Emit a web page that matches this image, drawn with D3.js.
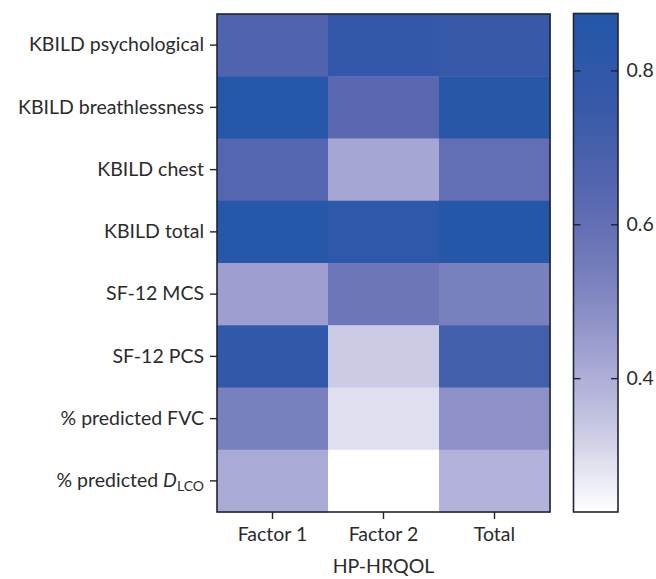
<!DOCTYPE html>
<html><head><meta charset="utf-8">
<script src="https://cdn.jsdelivr.net/npm/d3@7"></script>
<style>body{margin:0;background:#fff}svg{display:block}</style>
</head><body><svg id="c" width="656" height="579"></svg>
<script>
const rows = ["KBILD psychological","KBILD breathlessness","KBILD chest","KBILD total","SF-12 MCS","SF-12 PCS","% predicted FVC","% predicted DLCO"];
const cols = ["Factor 1","Factor 2","Total"];
const factor1 = [0.67,0.85,0.65,0.85,0.44,0.79,0.53,0.41];
const factor2 = [0.78,0.63,0.42,0.81,0.57,0.33,0.29,0.226];
const total   = [0.76,0.84,0.60,0.86,0.53,0.71,0.48,0.39];
const colorTicks = [0.4,0.6,0.8];
const colorDomain = [0.226,0.874];
const stopValues = [0.226,0.33,0.42,0.53,0.63,0.75,0.874];
const stopColors = ["#ffffff","#cbcbe5","#a6a6d4","#7880bd","#5a68b0","#3859a9","#2356a8"];

const font = "Lato, 'Noto Sans', sans-serif";
const fs = 19.5;
const svg = d3.select("#c");
const m = {l:217, r:550, t:14, b:512};
const x = d3.scaleBand().domain(cols).range([m.l,m.r]);
const y = d3.scaleBand().domain(rows).range([m.t,m.b]);
const color = d3.scaleLinear().domain(stopValues).range(stopColors).clamp(true);

const series = [factor1,factor2,total];
const cells = [];
rows.forEach((r,i)=>cols.forEach((c,j)=>cells.push({r,c,v:series[j][i]})));
svg.append("g").selectAll("rect").data(cells).join("rect")
  .attr("x",d=>x(d.c)).attr("y",d=>y(d.r))
  .attr("width",x.bandwidth()+0.5).attr("height",y.bandwidth()+0.5)
  .attr("fill",d=>color(d.v));
svg.append("rect").attr("x",m.l).attr("y",m.t).attr("width",m.r-m.l).attr("height",m.b-m.t)
  .attr("fill","none").attr("stroke","#1e2533").attr("stroke-width",1.6);

// Y axis
const yAx = svg.append("g").attr("transform",`translate(${m.l},0)`)
  .call(d3.axisLeft(y).tickSize(7).tickPadding(6));
yAx.select(".domain").remove();
yAx.selectAll(".tick line").attr("stroke","#222").attr("stroke-width",1.4);
yAx.selectAll(".tick text").attr("font-family",font).attr("font-size",fs).attr("fill","#2b2b2b")
  .each(function(d){
    if(d==="% predicted DLCO"){
      const t=d3.select(this); t.text(null);
      t.append("tspan").text("% predicted ");
      t.append("tspan").attr("font-style","italic").text("D");
      t.append("tspan").attr("font-size",14).attr("dy",4).text("LCO");
    }
  });

// X axis
const xAx = svg.append("g").attr("transform",`translate(0,${m.b})`)
  .call(d3.axisBottom(x).tickSize(7).tickPadding(8));
xAx.select(".domain").remove();
xAx.selectAll(".tick line").attr("stroke","#222").attr("stroke-width",1.4);
xAx.selectAll(".tick text").attr("font-family",font).attr("font-size",fs).attr("fill","#2b2b2b");
svg.append("text").attr("x",(m.l+m.r)/2).attr("y",573).attr("text-anchor","middle")
  .attr("font-family",font).attr("font-size",fs).attr("fill","#2b2b2b").text("HP-HRQOL");

// Colorbar
const cb = {l:573.5, r:618, t:13.5, b:512};
const cy = d3.scaleLinear().domain(colorDomain).range([cb.b,cb.t]);
const defs = svg.append("defs");
const grad = defs.append("linearGradient").attr("id","g").attr("x1",0).attr("y1",1).attr("x2",0).attr("y2",0);
d3.range(0,1.0001,0.05).forEach(f=>{
  const v = colorDomain[0]+f*(colorDomain[1]-colorDomain[0]);
  grad.append("stop").attr("offset",f).attr("stop-color",color(v));
});
svg.append("rect").attr("x",cb.l).attr("y",cb.t).attr("width",cb.r-cb.l).attr("height",cb.b-cb.t)
  .attr("fill","url(#g)").attr("stroke","#1e2533").attr("stroke-width",1.6);
const cAx = svg.append("g").attr("transform",`translate(${cb.r},0)`)
  .call(d3.axisLeft(cy).tickValues(colorTicks).tickSize(7).tickFormat(d3.format(".1f")));
cAx.select(".domain").remove();
cAx.selectAll(".tick text").remove();
cAx.selectAll(".tick line").attr("stroke","#1e2533").attr("stroke-width",1.4);
const cAx2 = svg.append("g").attr("transform",`translate(${cb.l},0)`)
  .call(d3.axisRight(cy).tickValues(colorTicks).tickSize(7).tickPadding(46).tickFormat(d3.format(".1f")));
cAx2.select(".domain").remove();
cAx2.selectAll(".tick line").attr("stroke","#1e2533").attr("stroke-width",1.4);
cAx2.selectAll(".tick text").attr("font-family",font).attr("font-size",fs).attr("fill","#2b2b2b");
</script></body></html>
